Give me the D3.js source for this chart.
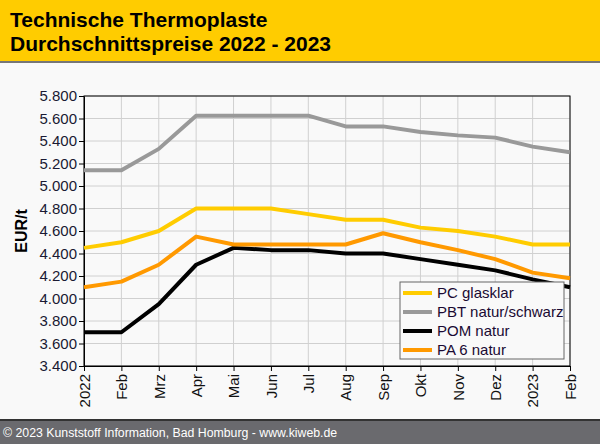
<!DOCTYPE html>
<html>
<head>
<meta charset="utf-8">
<script src="https://cdn.jsdelivr.net/npm/d3@7"></script>
<style>
  body { margin: 0; background: #f9f9f9; }
  svg { display: block; font-family: "Liberation Sans", Arial, sans-serif; }
</style>
</head>
<body>
<script>
// monate
const months = ["2022", "Feb", "Mrz", "Apr", "Mai", "Jun", "Jul", "Aug", "Sep", "Okt", "Nov", "Dez", "2023", "Feb"];
const pcGlasklar = [4450, 4500, 4600, 4800, 4800, 4800, 4750, 4700, 4700, 4630, 4600, 4550, 4480, 4480];
const pbtNatur = [5140, 5140, 5330, 5625, 5625, 5625, 5625, 5530, 5530, 5480, 5450, 5430, 5350, 5300];
const pomNatur = [3700, 3700, 3950, 4300, 4450, 4430, 4430, 4400, 4400, 4350, 4300, 4250, 4170, 4100];
const pa6Natur = [4100, 4150, 4300, 4550, 4480, 4480, 4480, 4480, 4580, 4500, 4430, 4350, 4230, 4180];
const yTicks = [3400, 3600, 3800, 4000, 4200, 4400, 4600, 4800, 5000, 5200, 5400, 5600, 5800];

const series = [
  {name: "PC glasklar", values: pcGlasklar, color: "#ffcc00"},
  {name: "PBT natur/schwarz", values: pbtNatur, color: "#999999"},
  {name: "POM natur", values: pomNatur, color: "#000000"},
  {name: "PA 6 natur", values: pa6Natur, color: "#ff9900"}
];

const W = 600, H = 444;
const margin = {top: 96, right: 30, bottom: 78, left: 84},
    width = W - margin.left - margin.right,
    height = H - margin.top - margin.bottom;

const svg = d3.select("body").append("svg")
    .attr("width", W)
    .attr("height", H);

svg.append("rect").attr("width", W).attr("height", H).attr("fill", "#f9f9f9");

// kopfzeile
svg.append("rect").attr("width", W).attr("height", 61).attr("fill", "#ffcc00");
svg.append("rect").attr("y", 61).attr("width", W).attr("height", 2).attr("fill", "#777777");
svg.append("text").attr("x", 10).attr("y", 27)
    .attr("font-size", 21).attr("font-weight", "bold").text("Technische Thermoplaste");
svg.append("text").attr("x", 10).attr("y", 51)
    .attr("font-size", 21).attr("font-weight", "bold").text("Durchschnittspreise 2022 - 2023");

// fusszeile
svg.append("rect").attr("y", 419).attr("width", W).attr("height", 25).attr("fill", "#6a6a6e");
svg.append("rect").attr("y", 419).attr("width", W).attr("height", 2).attr("fill", "#333333");
svg.append("text").attr("x", 3).attr("y", 437)
    .attr("font-size", 12.3).attr("fill", "#ffffff")
    .text("\u00a9 2023 Kunststoff Information, Bad Homburg - www.kiweb.de");

const g = svg.append("g").attr("transform", `translate(${margin.left}, ${margin.top})`);

const x = d3.scalePoint().domain(d3.range(months.length)).range([0, width]);
const y = d3.scaleLinear().domain([3400, 5800]).range([height, 0]);

// gitter
g.append("g").selectAll("line").data(yTicks).enter().append("line")
    .attr("x1", 0).attr("x2", width)
    .attr("y1", d => y(d)).attr("y2", d => y(d))
    .attr("stroke", "#d0d0d0");
g.append("g").selectAll("line").data(d3.range(months.length)).enter().append("line")
    .attr("x1", d => x(d)).attr("x2", d => x(d))
    .attr("y1", 0).attr("y2", height)
    .attr("stroke", "#d0d0d0");

// achsen
const yAxis = g.append("g")
    .call(d3.axisLeft(y).tickValues(yTicks).tickSize(5).tickSizeOuter(0)
        .tickFormat(d => d3.format(".3f")(d / 1000)));
yAxis.selectAll("text").attr("font-size", 15).attr("fill", "#1a1a33")
    .attr("font-family", "Liberation Sans, Arial, sans-serif").attr("dx", "1");

const xAxis = g.append("g").attr("transform", `translate(0, ${height})`)
    .call(d3.axisBottom(x).tickSize(5).tickSizeOuter(0).tickFormat(i => months[i]));
xAxis.selectAll("text")
    .attr("font-size", 15).attr("fill", "#111")
    .attr("font-family", "Liberation Sans, Arial, sans-serif")
    .attr("transform", "rotate(-90)")
    .attr("x", -8).attr("y", 0).attr("dy", "0.35em")
    .style("text-anchor", "end");
g.selectAll(".domain").attr("stroke", "#000");

// rahmen
g.append("rect").attr("width", width).attr("height", height)
    .attr("fill", "none").attr("stroke", "#000");

svg.append("text")
    .attr("transform", `translate(27, ${margin.top + height / 2}) rotate(-90)`)
    .attr("text-anchor", "middle")
    .attr("font-size", 16).attr("font-weight", "bold").text("EUR/t");

// linien
const line = d3.line().x((d, i) => x(i)).y(d => y(d));
g.selectAll(".serie").data(series).enter().append("path")
    .attr("class", "serie")
    .attr("d", d => line(d.values))
    .attr("fill", "none")
    .attr("stroke", d => d.color)
    .attr("stroke-width", 4)
    .attr("stroke-linejoin", "round");

// legende
const lg = svg.append("g").attr("transform", "translate(400, 282)");
lg.append("rect").attr("width", 164).attr("height", 77)
    .attr("fill", "#f9f9f9").attr("stroke", "#666");
const item = lg.selectAll(".item").data(series).enter().append("g")
    .attr("transform", (d, i) => `translate(0, ${11 + i * 19})`);
item.append("line").attr("x1", 3).attr("x2", 32)
    .attr("stroke", d => d.color).attr("stroke-width", 4);
item.append("text").attr("x", 37).attr("y", 5)
    .attr("font-size", 15).attr("fill", "#1a0a33").text(d => d.name);
</script>
</body>
</html>
